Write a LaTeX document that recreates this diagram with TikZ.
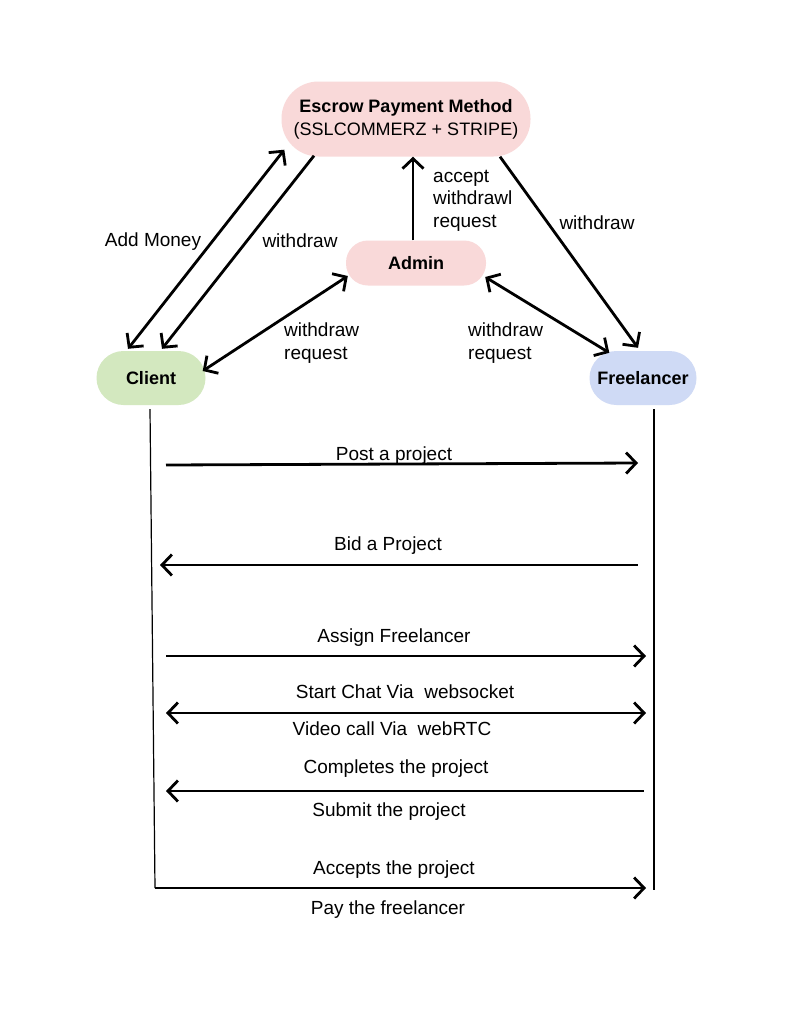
\documentclass[tikz,border=0pt]{standalone}
\usepackage{fontspec}
\setmainfont{Liberation Sans}
\usetikzlibrary{arrows.meta,calc}

\definecolor{pinkfill}{HTML}{F9D9D9}
\definecolor{greenfill}{HTML}{D3E8BF}
\definecolor{bluefill}{HTML}{CFDAF5}

\tikzset{
  pill/.style={draw=none, rounded corners=#1, inner sep=0pt, align=center,
               font=\fontsize{18}{22}\selectfont\bfseries},
  lbl/.style={inner sep=0pt, font=\fontsize{19}{22.5}\selectfont},
  tip/.tip={Straight Barb[length=10pt,width=21pt]},
  flow/.style={line width=2.8pt, -tip},
  flowboth/.style={line width=2.8pt, tip-tip},
  flowback/.style={line width=2.8pt, tip-},
  lifeline/.style={line width=1.2pt},
}

\begin{document}
\begin{tikzpicture}[x=1pt,y=-1pt]
\useasboundingbox[fill=white] (0,0) rectangle (794,1020);

% actors
\node[pill=37pt, fill=pinkfill, minimum width=249pt, minimum height=75pt] (escrow) at (406,119)
  {Escrow Payment Method\\[1pt]{\mdseries (SSLCOMMERZ + STRIPE)}};
\node[pill=22pt, fill=pinkfill, minimum width=140pt, minimum height=45pt] (admin) at (416,263) {Admin};
\node[pill=27pt, fill=greenfill, minimum width=109pt, minimum height=54pt] (client) at (151,378) {Client};
\node[pill=27pt, fill=bluefill, minimum width=107pt, minimum height=54pt] (free) at (643,378) {Freelancer};

% payment links
\draw[flowboth] ($(client.north)+(-23,-2)$) -- ($(escrow.south west)+(3,-7)$);
\draw[flow] ($(escrow.south)+(-92,-1)$) -- ($(client.north)+(11,-2)$);
\draw[flow] ($(admin.north)+(-3,0)$) -- ($(escrow.south)+(7,0)$);
\draw[flow] ($(escrow.south)+(94,0)$) -- ($(free.north)+(-5,-3)$);
\draw[flowboth] ($(client.east)+(-3,-7)$) -- ($(admin.west)+(2,13)$);
\draw[flowboth] ($(admin.east)+(-1,14)$) -- ($(free.north west)+(20,2)$);

\node[lbl] (lAdd) at (153,242) {Add Money};
\node[lbl] (lWd1) at (300,241) {withdraw};
\node[lbl, anchor=north west, align=left] (lAcc) at (433,170) {accept\\withdrawl\\request};
\node[lbl] (lWd2) at (597,223) {withdraw};
\node[lbl, anchor=west, align=left] (lReqC) at (284,343) {withdraw\\request};
\node[lbl, anchor=west, align=left] (lReqF) at (468,343) {withdraw\\request};

% lifelines
\coordinate (cTop) at ($(client.south)+(-1,4)$);
\coordinate (cBot) at (155,888);
\coordinate (fTop) at ($(free.south)+(11,4)$);
\coordinate (fBot) at (654,890);
\draw[lifeline] (cTop) -- (cBot);
\draw[lifeline] (fTop) -- (fBot);

% messages
\coordinate (m1a) at (166,465); \coordinate (m1b) at (638,463);
\coordinate (m2a) at (160,565); \coordinate (m2b) at (638,565);
\coordinate (m3a) at (166,656); \coordinate (m3b) at (646,656);
\coordinate (m4a) at (166,713); \coordinate (m4b) at (646,713);
\coordinate (m5a) at (166,791); \coordinate (m5b) at (644,791);
\coordinate (m6b) at (646,888);

\draw[flow] (m1a) -- (m1b);
\node[lbl] (t1) at (394,456) {Post a project};
\draw[flowback] (m2a) -- (m2b);
\node[lbl] (t2) at (388,546) {Bid a Project};
\draw[flow] (m3a) -- (m3b);
\node[lbl] (t3) at (394,638) {Assign Freelancer};
\draw[flowboth] (m4a) -- (m4b);
\node[lbl] (t4a) at (405,692) {Start Chat Via~~websocket};
\node[lbl] (t4b) at (392,729) {Video call Via~~webRTC};
\draw[flowback] (m5a) -- (m5b);
\node[lbl] (t5a) at (396,769) {Completes the project};
\node[lbl] (t5b) at (389,812) {Submit the project};
\draw[flow] (cBot) -- (m6b);
\node[lbl] (t6a) at (394,870) {Accepts the project};
\node[lbl] (t6b) at (388,910) {Pay the freelancer};
\end{tikzpicture}
\end{document}
